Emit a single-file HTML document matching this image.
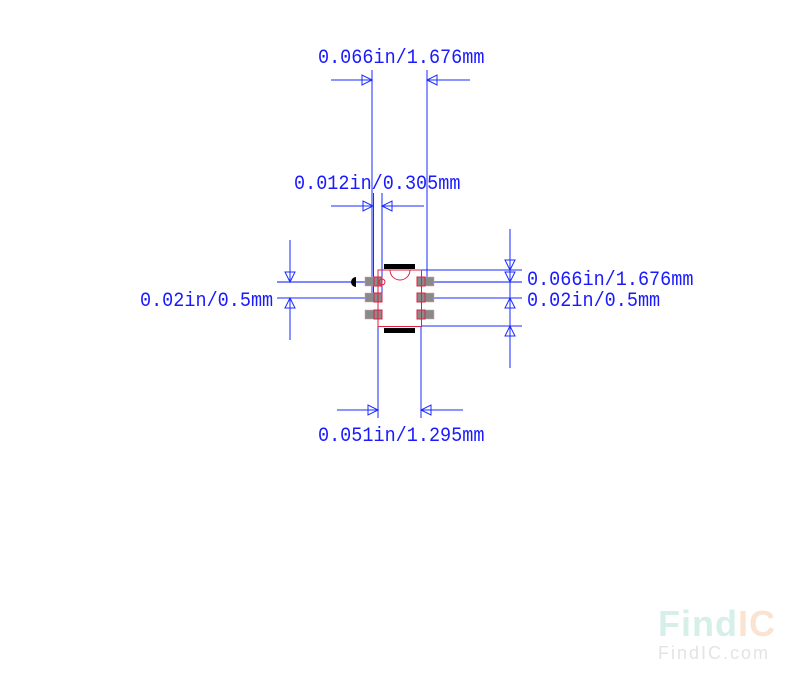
<!DOCTYPE html>
<html><head><meta charset="utf-8"><style>
html,body{margin:0;padding:0;background:#fff;}
svg{display:block;}
text.d{font-family:"Liberation Mono",monospace;font-size:18.5px;fill:#1a1aff;}
</style></head><body>
<svg width="800" height="679" viewBox="0 0 800 679" xmlns="http://www.w3.org/2000/svg">
<defs>
<path id="ar" d="M0,0 L-10,-5 L-10,5 Z" fill="none" stroke="#1a2aff" stroke-width="1"/>
</defs>
<g stroke="#1a2aff" stroke-width="1" fill="none">
<line x1="372" y1="70" x2="372" y2="300"/>
<line x1="427" y1="70" x2="427" y2="285"/>
<line x1="331" y1="80" x2="372" y2="80"/>
<line x1="470" y1="80" x2="427" y2="80"/>
<line x1="373.5" y1="193" x2="373.5" y2="300"/>
<line x1="382" y1="193" x2="382" y2="300"/>
<line x1="331" y1="206" x2="373" y2="206"/>
<line x1="424" y1="206" x2="382" y2="206"/>
<line x1="277" y1="282" x2="372" y2="282" stroke-width="2" stroke="#7f88ff"/>
<line x1="277" y1="298" x2="372" y2="298"/>
<line x1="290" y1="240" x2="290" y2="282"/>
<line x1="290" y1="298" x2="290" y2="340"/>
<line x1="415" y1="270" x2="522" y2="270"/>
<line x1="425" y1="282" x2="522" y2="282" stroke-width="2" stroke="#7f88ff"/>
<line x1="425" y1="298" x2="522" y2="298"/>
<line x1="421" y1="326" x2="522" y2="326"/>
<line x1="510" y1="229" x2="510" y2="368"/>
<line x1="378" y1="326" x2="378" y2="418"/>
<line x1="421" y1="326" x2="421" y2="418"/>
<line x1="337" y1="410" x2="378" y2="410"/>
<line x1="463" y1="410" x2="421" y2="410"/>
</g>
<g>
<use href="#ar" transform="translate(372,80)"/>
<use href="#ar" transform="translate(427,80) rotate(180)"/>
<use href="#ar" transform="translate(373,206)"/>
<use href="#ar" transform="translate(382,206) rotate(180)"/>
<use href="#ar" transform="translate(290,282) rotate(90)"/>
<use href="#ar" transform="translate(290,298) rotate(-90)"/>
<use href="#ar" transform="translate(510,270) rotate(90)"/>
<use href="#ar" transform="translate(510,282) rotate(90)"/>
<use href="#ar" transform="translate(510,298) rotate(-90)"/>
<use href="#ar" transform="translate(510,326) rotate(-90)"/>
<use href="#ar" transform="translate(378,410)"/>
<use href="#ar" transform="translate(421,410) rotate(180)"/>
</g>
<g fill="#8a8a8a" stroke="#d0a0a0" stroke-width="0.5">
<rect x="365" y="277" width="17" height="9"/>
<rect x="365" y="293" width="17" height="9"/>
<rect x="365" y="310" width="17" height="9"/>
<rect x="417" y="277" width="17" height="9"/>
<rect x="417" y="293" width="17" height="9"/>
<rect x="417" y="310" width="17" height="9"/>
</g>
<g fill="none" stroke="#dd2244" stroke-width="1">
<rect x="378" y="270" width="43.5" height="56.5"/>
<rect x="374" y="277" width="8" height="9"/>
<rect x="374" y="293" width="8" height="9"/>
<rect x="374" y="310" width="8" height="9"/>
<rect x="417" y="277" width="8" height="9"/>
<rect x="417" y="293" width="8" height="9"/>
<rect x="417" y="310" width="8" height="9"/>
<path d="M390,270 A10,10 0 0 0 410,270"/>
<circle cx="382" cy="282" r="3"/>
</g>
<rect x="384" y="264" width="31" height="5" fill="#000"/>
<rect x="384" y="328" width="31" height="5" fill="#000"/>
<path d="M356,277 A5,5 0 0 0 356,287 Z" fill="#000"/>
<g transform="scale(1,1.1)">
<text class="d" x="318" y="57.3">0.066in/1.676mm</text>
<text class="d" x="294" y="171.8">0.012in/0.305mm</text>
<text class="d" x="140" y="278.2">0.02in/0.5mm</text>
<text class="d" x="527" y="259.1">0.066in/1.676mm</text>
<text class="d" x="527" y="278.2">0.02in/0.5mm</text>
<text class="d" x="318" y="400.9">0.051in/1.295mm</text>
</g>
<text x="658" y="636" style="font-family:'Liberation Sans',sans-serif;font-weight:bold;font-size:36px;fill:#d6efe9;letter-spacing:1px">Find<tspan style="fill:#fbe3d2">IC</tspan></text>
<text x="658" y="659" style="font-family:'Liberation Sans',sans-serif;font-size:18px;fill:#e4e4e4;letter-spacing:2px">FindIC.com</text>
</svg>
</body></html>
